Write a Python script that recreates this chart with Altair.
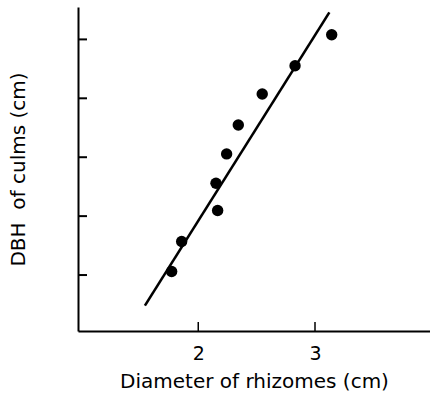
import altair as alt
import pandas as pd

# Observed data points (diameter of rhizomes vs DBH of culms)
rhizome_diam = [1.772, 1.858, 2.166, 2.152, 2.243, 2.343, 2.548, 2.829, 3.143]
culm_dbh = [1.061, 1.569, 2.095, 2.559, 3.056, 3.547, 4.073, 4.553, 5.078]

# Fitted line end points
fit_x = [1.543, 3.123]
fit_y = [0.48, 5.458]

# Tick positions
x_ticks = [2, 3]
y_ticks = [1, 2, 3, 4, 5]

pts = pd.DataFrame({"x": rhizome_diam, "y": culm_dbh})
fit = pd.DataFrame({"x": fit_x, "y": fit_y})
xt = pd.DataFrame({"x": x_ticks})
yt = pd.DataFrame({"y": y_ticks})

xscale = alt.Scale(domain=[0.97, 3.985], nice=False, zero=False)
yscale = alt.Scale(domain=[0.05, 5.55], nice=False, zero=False)

xaxis = alt.Axis(
    values=x_ticks, format="d", ticks=False, tickSize=0, grid=False,
    domainColor="black", domainWidth=2,
    labelFont="DejaVu Sans", labelFontSize=19, labelColor="black", labelPadding=13,
    title="Diameter of rhizomes (cm)", titleFont="DejaVu Sans", titleFontSize=20,
    titleFontWeight="normal", titleColor="black", titlePadding=8,
)
yaxis = alt.Axis(
    labels=False, ticks=False, tickSize=0, grid=False,
    domainColor="black", domainWidth=2,
    title="DBH\u00a0 of culms (cm)", titleFont="DejaVu Sans", titleFontSize=20,
    titleFontWeight="normal", titleColor="black", titlePadding=50,
)

line = alt.Chart(fit).mark_line(color="black", strokeWidth=2.6).encode(
    x=alt.X("x:Q", scale=xscale, axis=xaxis),
    y=alt.Y("y:Q", scale=yscale, axis=yaxis),
)

points = alt.Chart(pts).mark_point(filled=True, color="black", size=130, opacity=1).encode(
    x=alt.X("x:Q", scale=xscale),
    y=alt.Y("y:Q", scale=yscale),
)

yticks = alt.Chart(yt).mark_rule(color="black", strokeWidth=2).encode(
    y=alt.Y("y:Q", scale=yscale),
    x=alt.value(0),
    x2=alt.value(9),
)

xticks = alt.Chart(xt).mark_rule(color="black", strokeWidth=1.5).encode(
    x=alt.X("x:Q", scale=xscale),
    y=alt.value(315),
    y2=alt.value(324),
)

chart = alt.layer(line, points, yticks, xticks).properties(
    width=352,
    height=324,
    autosize=alt.AutoSizeParams(type="none"),
    padding={"left": 78, "top": 7, "right": 0, "bottom": 68},
    background="white",
).configure_view(stroke=None)

chart.save("out.html", embed_options={"renderer": "svg", "actions": False})
